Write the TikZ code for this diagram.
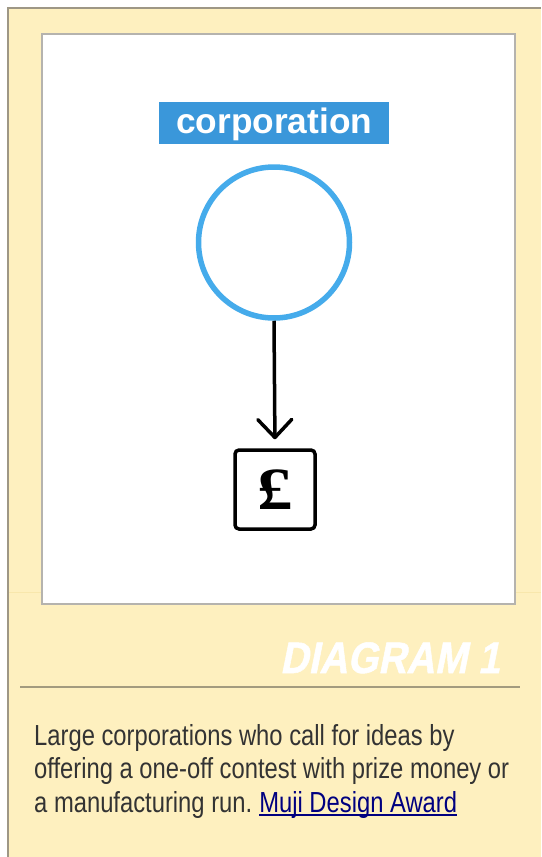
\documentclass[tikz,border=0pt]{standalone}
\usepackage{fontspec}
\setmainfont{Liberation Sans}
\newfontfamily\bodyfont{Liberation Sans}[FakeStretch=0.82]
\newfontfamily\diagfont{Liberation Sans}[BoldFeatures={FakeSlant=0.2,FakeStretch=0.89,FakeBold=1.2}]
\newfontfamily\poundfont{Liberation Serif}[BoldFeatures={FakeStretch=1.18}]
\usetikzlibrary{arrows.meta}
\definecolor{bgyellow}{HTML}{FEF0BF}
\definecolor{framegrey}{HTML}{9E9785}
\definecolor{boxgrey}{HTML}{B5B3AE}
\definecolor{faintline}{HTML}{F8E7AC}
\definecolor{rulegrey}{HTML}{A39B7E}
\definecolor{labelblue}{HTML}{3A97DA}
\definecolor{circblue}{HTML}{45ABEB}
\definecolor{bodytext}{HTML}{333333}
\definecolor{linkblue}{HTML}{000080}
\tikzset{
  bodyline/.style={anchor=base west, inner sep=0pt, text=bodytext, font=\bodyfont\fontsize{29}{33}\selectfont},
  labelbox/.style={fill=labelblue, text=white, inner sep=0pt, minimum width=230pt, minimum height=42.3pt,
    text height=24pt, text depth=3.4pt, font=\bfseries\fontsize{35.3}{40}\selectfont},
  ringnode/.style={circle, draw=circblue, line width=5.5pt, minimum size=151pt, inner sep=0pt},
  moneybox/.style={draw=black, rounded corners=4pt, line width=3.5pt, minimum width=80pt, minimum height=79pt, inner sep=0pt,
    font=\poundfont\bfseries\fontsize{60}{62}\selectfont},
  flowarrow/.style={line width=3.5pt, -{Straight Barb[length=18pt,width=34pt,round]}, shorten >=9pt}
}
\begin{document}
\begin{tikzpicture}[x=1pt,y=-1pt]
\useasboundingbox (0,0) rectangle (541,857);
\fill[white] (0,0) rectangle (541,857);
\fill[bgyellow] (8,8) rectangle (541,857);
\draw[framegrey, line width=2pt] (8,857) -- (8,8) -- (541,8);
\draw[faintline, line width=1pt] (9,592.5) -- (541,592.5);
\draw[fill=white, draw=boxgrey, line width=1.3pt] (42,34) rectangle (515,604);
% diagram
\node[labelbox] (corp) at (274.2,123) {corporation};
\node[ringnode] (ring) at (274,242.5) {};
\node[moneybox] (money) at (275,489.5) {£};
\draw[flowarrow] (ring.south) -- (money.north);
% caption
\node[anchor=base east, inner sep=0pt, text=white, font=\diagfont\bfseries\fontsize{44}{48}\selectfont] (title) at (500,673) {DIAGRAM 1};
\draw[rulegrey, line width=2pt] (20,686.5) -- (520,686.5);
\node[bodyline] (l1) at (34,745) {Large corporations who call for ideas by};
\node[bodyline] (l2) at (34,778.5) {offering a one-off contest with prize money or};
\node[bodyline] (l3) at (34,812) {a manufacturing run.};
\node[bodyline, text=linkblue] (link) at ([xshift=6.6pt]l3.base east) {Muji Design Award};
\draw[linkblue, line width=1.4pt] ([yshift=-3pt]link.base west) -- ([yshift=-3pt]link.base east);
\end{tikzpicture}
\end{document}
